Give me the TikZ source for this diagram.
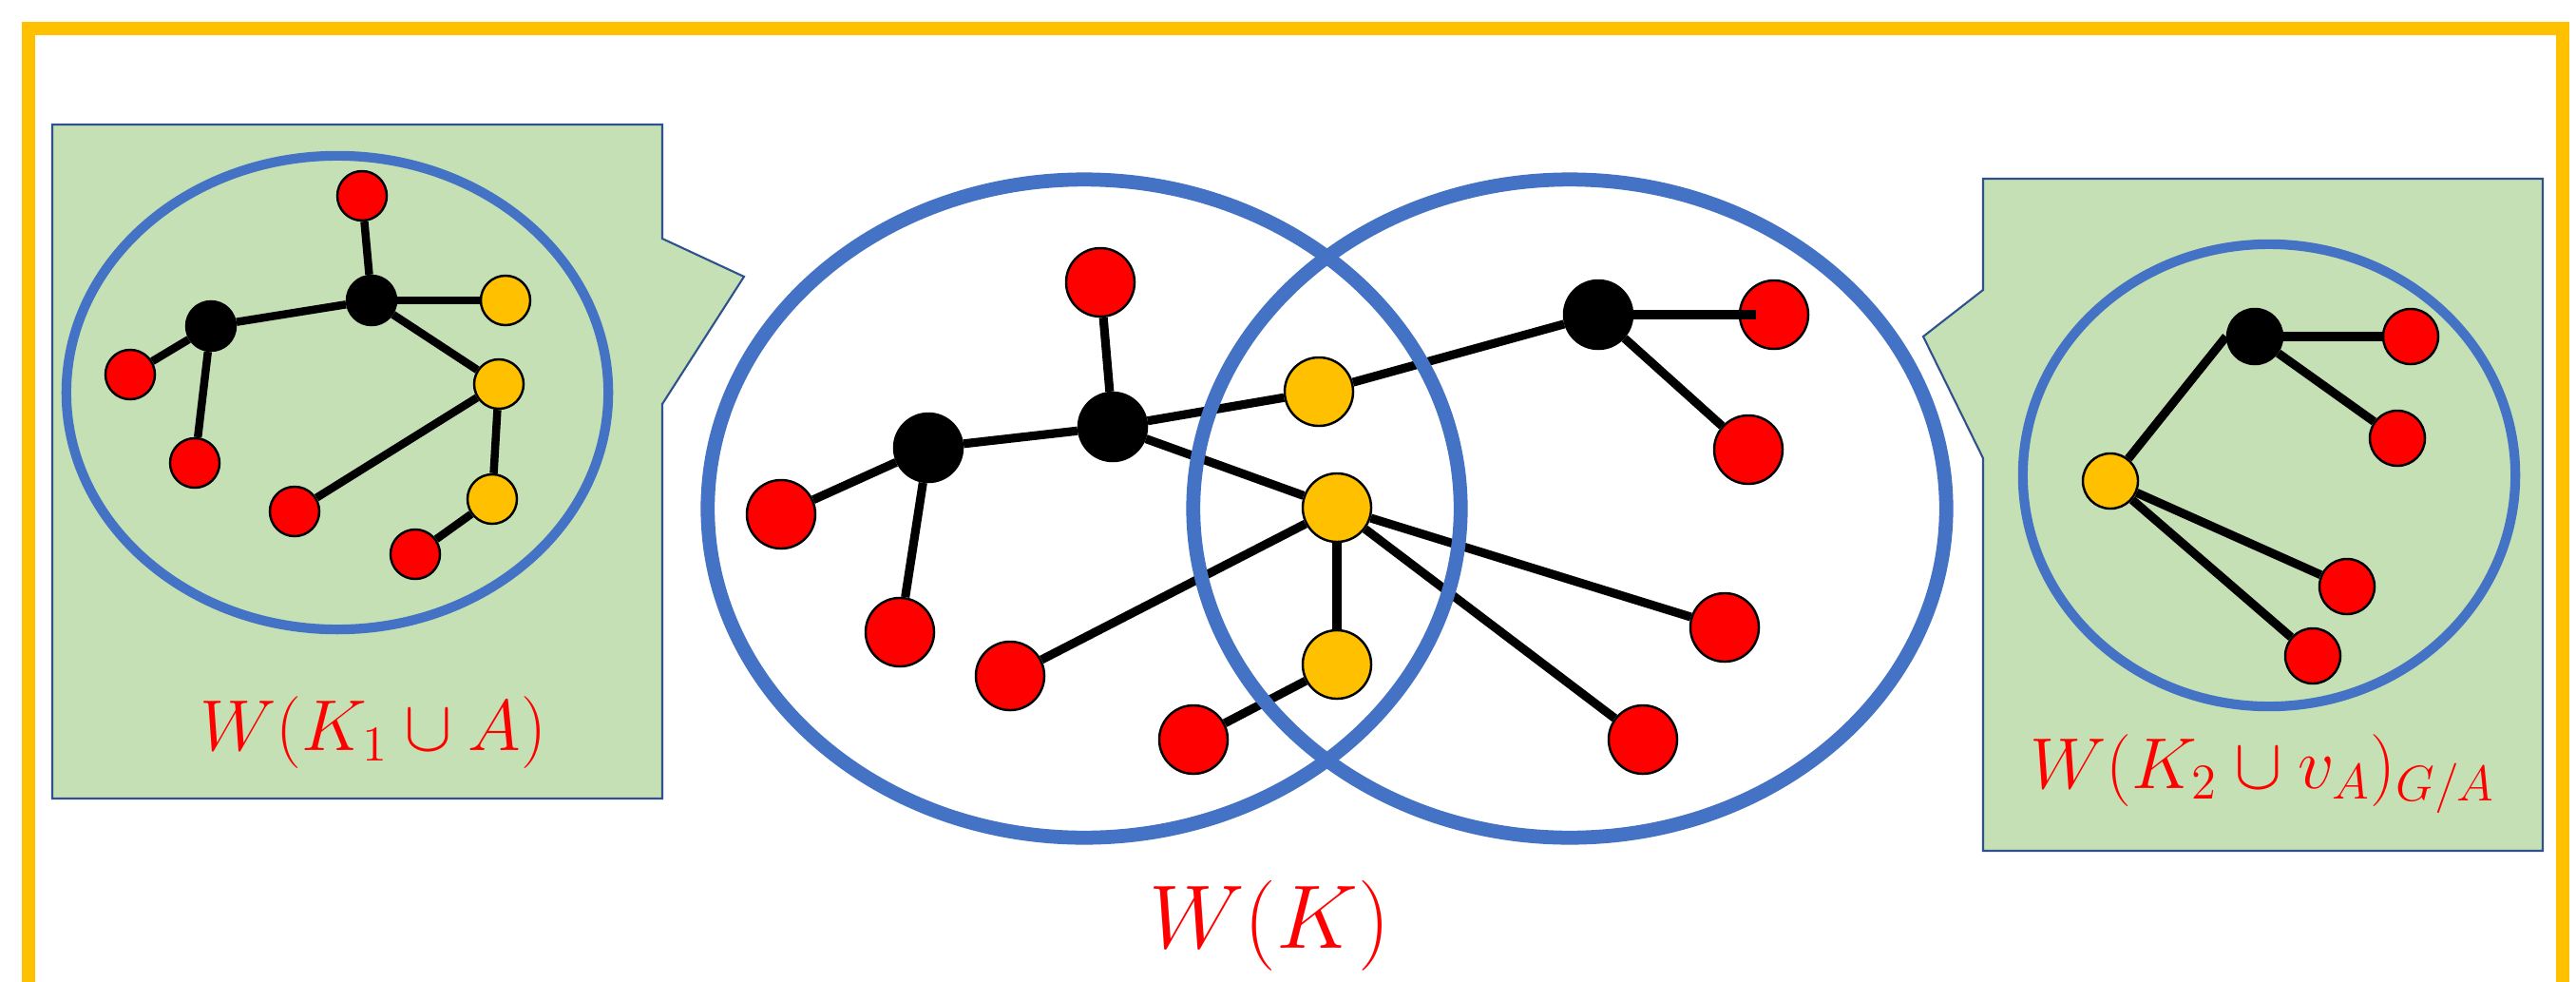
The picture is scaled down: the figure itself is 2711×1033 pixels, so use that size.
\documentclass[tikz,border=0pt]{standalone}
\usepackage{graphicx}
\definecolor{frameorange}{HTML}{FFC000}
\definecolor{ringblue}{HTML}{4472C4}
\definecolor{boxgreen}{HTML}{C5E0B4}
\definecolor{boxedge}{HTML}{2F528F}
\definecolor{vred}{HTML}{FF0000}
\definecolor{vyellow}{HTML}{FFC000}
\pgfdeclarelayer{bg}
\pgfdeclarelayer{links}
\pgfdeclarelayer{rings}
\pgfdeclarelayer{front}
\pgfsetlayers{bg,links,rings,main,front}
\tikzset{
  vtx/.style={circle, draw=black, line width=0.7pt, inner sep=0pt, minimum size=0.72cm},
  redv/.style={vtx, fill=vred},
  yelv/.style={vtx, fill=vyellow},
  blkv/.style={vtx, fill=black},
  lsz/.style={minimum size=0.52cm},
  rsz/.style={minimum size=0.58cm},
  link/.style={draw=black, line width=2.6pt},
  thinlink/.style={draw=black, line width=2.4pt},
  ring/.style={draw=ringblue, line width=4.2pt},
  inring/.style={draw=ringblue, line width=2.9pt},
  callout/.style={fill=boxgreen, draw=boxedge, line width=0.6pt},
  lbl/.style={text=vred, anchor=base, inner sep=0pt},
}
\begin{document}
\begin{tikzpicture}[x=0.01cm, y=-0.01cm]
\useasboundingbox (0,0) rectangle (2711,1033);
\clip (0,0) rectangle (2711,1033);

\begin{pgfonlayer}{bg}
  % outer frame
  \draw[frameorange, line width=4pt] (30,30) rectangle (2697,1120);
  % callout boxes
  \path[callout] (55,131) -- (697,131) -- (697,251) -- (783,291) -- (697,425)
     -- (697,840) -- (55,840) -- cycle;
  \path[callout] (2087,188) -- (2676,188) -- (2676,895) -- (2087,895)
     -- (2087,482) -- (2024,354) -- (2087,305) -- cycle;
\end{pgfonlayer}

% ---------- left inset: W(K_1 u A) ----------
\node[blkv, lsz] (lA) at (222,343) {};
\node[blkv, lsz] (lB) at (391,316) {};
\node[redv, lsz] (lr1) at (381,206) {};
\node[yelv, lsz] (lY1) at (532,316) {};
\node[yelv, lsz] (lY2) at (525,404) {};
\node[yelv, lsz] (lY3) at (518,525) {};
\node[redv, lsz] (lr2) at (137,394) {};
\node[redv, lsz] (lr3) at (205,487) {};
\node[redv, lsz] (lr4) at (310,538) {};
\node[redv, lsz] (lr5) at (437,583) {};
\node[lbl, font=\huge] (llab) at (393,789) {\scalebox{1.04}{$W(K_1\cup A)$}};

% ---------- central picture: W(K) ----------
\node[blkv] (cA) at (977,471) {};
\node[blkv] (cB) at (1171,449) {};
\node[redv] (cT) at (1158,297) {};
\node[redv] (cL) at (822,541) {};
\node[redv] (cLL) at (947,665) {};
\node[redv] (cM) at (1063,711) {};
\node[redv] (cBt) at (1256,778) {};
\node[yelv] (cY1) at (1388,412) {};
\node[yelv] (cY2) at (1407,534) {};
\node[yelv] (cY3) at (1407,699) {};
\node[blkv] (cC) at (1682,331) {};
\node[redv] (cCR) at (1867,331) {};
\node[redv] (cCL) at (1840,473) {};
\node[redv] (cR) at (1815,660) {};
\node[redv] (cRB) at (1729,778) {};
\node[lbl, font=\Huge] (clab) at (1336,997) {\scalebox{1.085}{$W(K)$}};

% ---------- right inset: W(K_2 u v_A)_{G/A} ----------
\node[blkv, rsz] (rK) at (2373,354) {};
\node[redv, rsz] (rr1) at (2537,354) {};
\node[redv, rsz] (rr2) at (2523,461) {};
\node[yelv, rsz] (rY) at (2221,506) {};
\node[redv, rsz] (rr3) at (2470,617) {};
\node[redv, rsz] (rr4) at (2434,690) {};
\node[lbl, font=\huge] (rlab) at (2381,829) {\scalebox{1.04}{$W(K_2\cup v_A)_{G/A}$}};

\begin{pgfonlayer}{links}
  \draw[thinlink] (lA) -- (lr2);
  \draw[thinlink] (lA) -- (lr3);
  \draw[thinlink] (lA) -- (lB);
  \draw[thinlink] (lB) -- (lr1);
  \draw[thinlink] (lB) -- (lY1);
  \draw[thinlink] (lB) -- (lY2);
  \draw[thinlink] (lY2) -- (lr4);
  \draw[thinlink] (lY2) -- (lY3);
  \draw[thinlink] (lY3) -- (lr5);

  \draw[link] (cA) -- (cL);
  \draw[link] (cA) -- (cLL);
  \draw[link] (cA) -- (cB);
  \draw[link] (cB) -- (cT);
  \draw[link] (cB) -- (cY1);
  \draw[link] (cY1) -- (cC);
  \draw[link] (cC) -- (cCL);
  \draw[link] (cB) -- (cY2);
  \draw[link] (cY2) -- (cM);
  \draw[link] (cY2) -- (cY3);
  \draw[link] (cY3) -- (cBt);
  \draw[link] (cY2) -- (cR);
  \draw[link] (cY2) -- (cRB);

  \draw[link] (rY) -- (rK.west);
  \draw[link] (rK) -- (rr1);
  \draw[link] (rK) -- (rr2);
  \draw[link] (rY) -- (rr3);
  \draw[link] (rY) -- (rr4);
\end{pgfonlayer}

\begin{pgfonlayer}{front}
  \draw[link] (cC) -- ([xshift=-0.19cm]cCR.center);
\end{pgfonlayer}

\begin{pgfonlayer}{rings}
  \draw[inring] (355,413) ellipse [x radius=2.85cm, y radius=2.49cm];
  \draw[ring] (1141,535) ellipse [x radius=3.96cm, y radius=3.46cm];
  \draw[ring] (1652,535) ellipse [x radius=3.96cm, y radius=3.46cm];
  \draw[inring] (2388,500) ellipse [x radius=2.59cm, y radius=2.43cm];
\end{pgfonlayer}
\end{tikzpicture}
\end{document}
